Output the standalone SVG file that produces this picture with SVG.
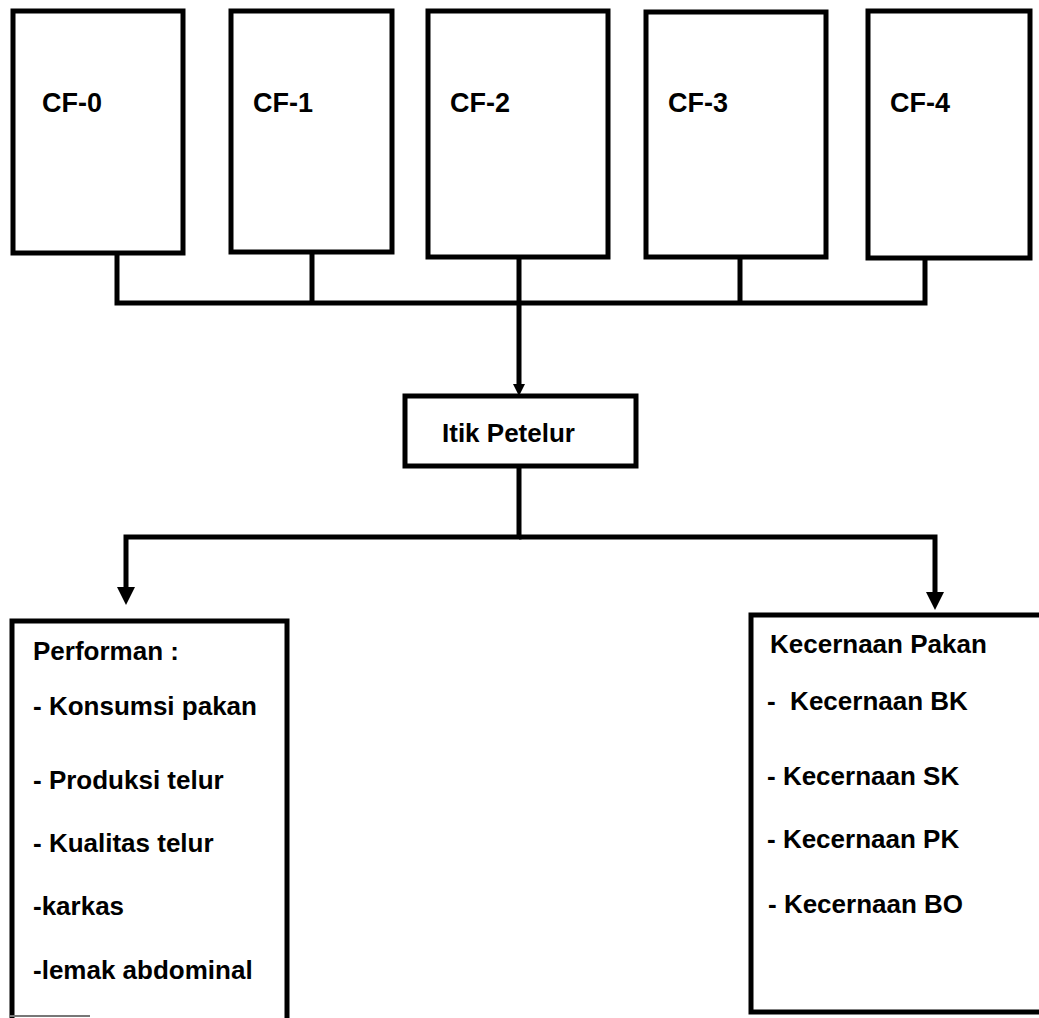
<svg xmlns="http://www.w3.org/2000/svg" width="1039" height="1018" viewBox="0 0 1039 1018">
<style>
.box{fill:none;stroke:#000;stroke-width:5;stroke-linejoin:miter}
.con{fill:none;stroke:#000;stroke-width:5;stroke-linejoin:miter}
.cf{font-family:"Liberation Sans",Arial,sans-serif;font-size:27px;font-weight:bold;fill:#000}
.t{font-family:"Liberation Sans",Arial,sans-serif;font-size:26px;font-weight:bold;fill:#000}
</style>
<defs>
<marker id="arr" viewBox="0 0 18 18" refX="8" refY="9" markerWidth="18" markerHeight="18" markerUnits="userSpaceOnUse" orient="auto">
<path d="M0,0 L18,9 L0,18 z" fill="#000"/>
</marker>
<marker id="arrS" viewBox="0 0 12 12" refX="2" refY="6" markerWidth="12" markerHeight="12" markerUnits="userSpaceOnUse" orient="auto">
<path d="M0,0 L12,6 L0,12 z" fill="#000"/>
</marker>
</defs>
<rect width="1039" height="1018" fill="#fff"/>
<g id="cf0"><rect class="box" x="13" y="11" width="170" height="242"/><text class="cf" x="42" y="112">CF-0</text></g>
<g id="cf1"><rect class="box" x="231" y="11" width="161" height="241"/><text class="cf" x="253" y="112">CF-1</text></g>
<g id="cf2"><rect class="box" x="428" y="11" width="180" height="246"/><text class="cf" x="450" y="112">CF-2</text></g>
<g id="cf3"><rect class="box" x="646" y="12" width="180" height="245"/><text class="cf" x="668" y="112">CF-3</text></g>
<g id="cf4"><rect class="box" x="868" y="11" width="162" height="247"/><text class="cf" x="890" y="112">CF-4</text></g>
<g id="itik"><rect class="box" x="405" y="396" width="231" height="70"/><text class="t" x="442" y="442">Itik Petelur</text></g>
<g id="performan">
<path class="box" d="M12,1018 V621 H287 V1018"/>
<line x1="10" y1="1016" x2="90" y2="1016" stroke="#777" stroke-width="2"/>
<text class="t" x="33" y="660">Performan :</text>
<text class="t" x="33" y="715">- Konsumsi pakan</text>
<text class="t" x="33" y="789">- Produksi telur</text>
<text class="t" x="33" y="852">- Kualitas telur</text>
<text class="t" x="33" y="915">-karkas</text>
<text class="t" x="33" y="979">-lemak abdominal</text>
</g>
<g id="kecernaan">
<path class="box" d="M1039,615 H751 V1012 H1039"/>
<text class="t" x="770" y="653">Kecernaan Pakan</text>
<text class="t" x="767" y="710" xml:space="preserve">-  Kecernaan BK</text>
<text class="t" x="767" y="785">- Kecernaan SK</text>
<text class="t" x="767" y="848">- Kecernaan PK</text>
<text class="t" x="768" y="913">- Kecernaan BO</text>
</g>
<g id="connectors">
<path class="con" d="M117,253 V303 H925 V258"/>
<path class="con" d="M312,252 V303"/>
<path class="con" d="M740,257 V303"/>
<path class="con" d="M519,257 V386" marker-end="url(#arrS)"/>
<path class="con" d="M519,466 V537 H126 V595" marker-end="url(#arr)"/>
<path class="con" d="M519,537 H935 V600" marker-end="url(#arr)"/>
</g>
</svg>
